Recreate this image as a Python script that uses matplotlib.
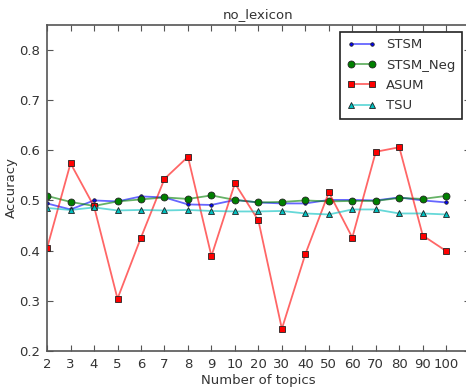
import matplotlib
matplotlib.use("Agg")
import matplotlib.pyplot as plt

topics = ["2", "3", "4", "5", "6", "7", "8", "9", "10",
          "20", "30", "40", "50", "60", "70", "80", "90", "100"]

stsm = [0.494, 0.482, 0.500, 0.498, 0.508, 0.506, 0.492, 0.491, 0.501,
        0.496, 0.494, 0.494, 0.501, 0.501, 0.500, 0.506, 0.500, 0.496]
stsm_neg = [0.509, 0.497, 0.489, 0.498, 0.502, 0.506, 0.503, 0.510, 0.501,
            0.496, 0.497, 0.500, 0.498, 0.499, 0.499, 0.505, 0.503, 0.509]
asum = [0.405, 0.574, 0.488, 0.304, 0.426, 0.543, 0.587, 0.389, 0.534,
        0.460, 0.244, 0.393, 0.516, 0.426, 0.597, 0.606, 0.430, 0.399]
tsu = [0.485, 0.481, 0.486, 0.480, 0.481, 0.480, 0.481, 0.479, 0.478,
       0.478, 0.479, 0.474, 0.472, 0.482, 0.482, 0.474, 0.474, 0.472]

text_col = "#333333"
spine_col = "#555555"

plt.rcParams["font.family"] = "DejaVu Sans"
plt.rcParams["font.size"] = 9.5

fig = plt.figure(figsize=(4.66, 3.89), dpi=100)
ax = fig.add_axes([0.101, 0.098, 0.907, 0.838])

x = list(range(len(topics)))

# (label, values, colour, marker, size)
series = [
    ("STSM", stsm, (0.0, 0.0, 1.0), "o", 2.5),
    ("STSM_Neg", stsm_neg, (0.0, 0.5, 0.0), "o", 5),
    ("ASUM", asum, (1.0, 0.0, 0.0), "s", 5),
    ("TSU", tsu, (0.0, 0.75, 0.75), "^", 5),
]

for label, vals, col, mk, ms in series:
    ax.plot(x, vals, color=col + (0.6,), lw=1.3, marker=mk, markersize=ms,
            markerfacecolor=col, markeredgecolor="#222222", markeredgewidth=0.6,
            label=label)

ax.set_xlim(0, 18)
ax.set_ylim(0.2, 0.85)
ax.set_xticks(x)
ax.set_xticklabels(topics)
ax.set_yticks([0.2, 0.3, 0.4, 0.5, 0.6, 0.7, 0.8])
ax.tick_params(direction="in", length=4, width=0.8, color=spine_col,
               labelcolor=text_col, top=True, right=True, pad=5)
for sp in ax.spines.values():
    sp.set_color(spine_col)
    sp.set_linewidth(1.2)

ax.set_title("no_lexicon", color=text_col, fontsize=9.5, pad=5)
ax.set_xlabel("Number of topics", color=text_col, labelpad=2)
ax.set_ylabel("Accuracy", color=text_col, labelpad=1)

leg = ax.legend(loc="upper right", numpoints=2, fancybox=False,
                framealpha=1, borderpad=0.5, labelspacing=0.55,
                handlelength=2.2, bbox_to_anchor=(0.998, 0.999))
leg.get_frame().set_edgecolor("#222222")
leg.get_frame().set_linewidth(1.2)
for t in leg.get_texts():
    t.set_color(text_col)

fig.savefig("out.png", dpi=100)
